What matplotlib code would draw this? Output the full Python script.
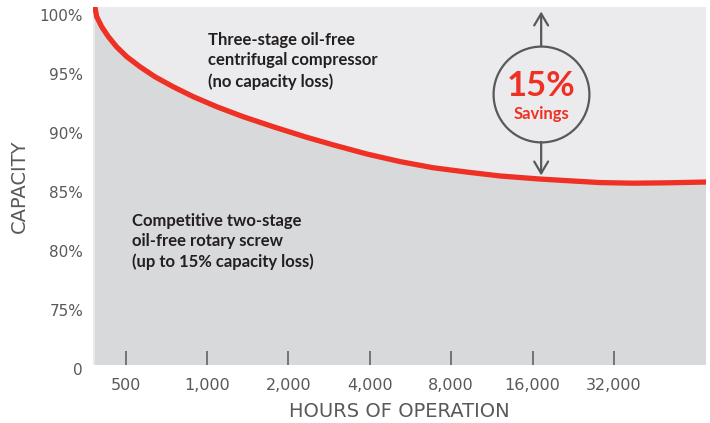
import numpy as np
import matplotlib.pyplot as plt

# data
hours = [385, 391, 408, 432, 463, 505, 565, 642, 750, 890, 1086, 1362, 1759,
         2337, 2924, 3906, 5170, 6850, 9150, 12130, 17040, 28400, 37600, 50300, 70700]
capacity = [100.7, 99.86, 99.01, 98.16, 97.31, 96.47, 95.62, 94.77, 93.92, 93.08,
            92.23, 91.38, 90.53, 89.64, 89.0, 88.22, 87.58, 87.06, 86.69, 86.36,
            86.1, 85.8, 85.75, 85.78, 85.85]

x_ticks = [500, 1000, 2000, 4000, 8000, 16000, 32000]
x_labels = ['500', '1,000', '2,000', '4,000', '8,000', '16,000', '32,000']
y_ticks = [75, 80, 85, 90, 95, 100]
y_labels = ['75%', '80%', '85%', '90%', '95%', '100%']
y_zero = 69.9  # the "0" sits just below the plot floor

red = '#EE3124'
grey_txt = '#58595B'
dark = '#231F20'

fig = plt.figure(figsize=(7.1, 4.23), dpi=100)
ax = fig.add_axes([0.131, 0.137, 0.8634, 0.8465])
ax.set_facecolor('#EBEBED')

ax.set_xscale('log', base=2)
ax.set_xlim(379, 70000)
ax.set_ylim(70.34, 100.68)

ax.fill_between(hours, capacity, 60, color='#D8D9DB', lw=0)
ax.plot(hours, capacity, color=red, lw=3.8, solid_capstyle='butt')

ax.set_xticks(x_ticks)
ax.set_xticklabels(x_labels)
ax.minorticks_off()
ax.set_yticks(y_ticks)
ax.set_yticklabels(y_labels)
ax.tick_params(axis='x', direction='in', length=10, width=1.1, color=grey_txt,
               pad=9, labelsize=11.5, labelcolor=grey_txt)
ax.tick_params(axis='y', length=0, pad=7, labelsize=11, labelcolor=grey_txt)
ax.text(-10 / 613, y_zero, '0', transform=ax.get_yaxis_transform(), ha='right',
        va='center', fontsize=11, color=grey_txt, clip_on=False)
for s in ax.spines.values():
    s.set_visible(False)

ax.set_xlabel('HOURS OF OPERATION', fontsize=14, color=grey_txt, labelpad=7)
ax.set_ylabel('CAPACITY', fontsize=14, color=grey_txt, labelpad=8)

txt = dict(fontsize=12, color=dark, fontweight='bold', family='Lato',
           linespacing=1.35, va='center', ha='left')
ax.text(0.188, 0.85, 'Three-stage oil-free\ncentrifugal compressor\n(no capacity loss)',
        transform=ax.transAxes, **txt)
ax.text(0.064, 0.345, 'Competitive two-stage\noil-free rotary screw\n(up to 15% capacity loss)',
        transform=ax.transAxes, **txt)

# savings badge
cx, cy = 17200, 93.3
ax.plot([cx], [cy], 'o', ms=69, mfc='none', mec=grey_txt, mew=1.6)
arr = dict(arrowstyle='->,head_length=0.85,head_width=0.5', color=grey_txt, lw=1.6,
           shrinkA=0, shrinkB=0)
ax.annotate('', xy=(cx, 100.3), xytext=(cx, 97.37), arrowprops=arr, annotation_clip=False)
ax.annotate('', xy=(cx, 86.4), xytext=(cx, 89.24), arrowprops=arr)
ax.text(cx, 94.0, '15%', color=red, fontsize=25, fontweight='bold', family='Lato',
        ha='center', va='center')
ax.text(cx, 91.6, 'Savings', color=red, fontsize=12, fontweight='bold', family='Lato',
        ha='center', va='center')

fig.savefig('out.png', dpi=100)
